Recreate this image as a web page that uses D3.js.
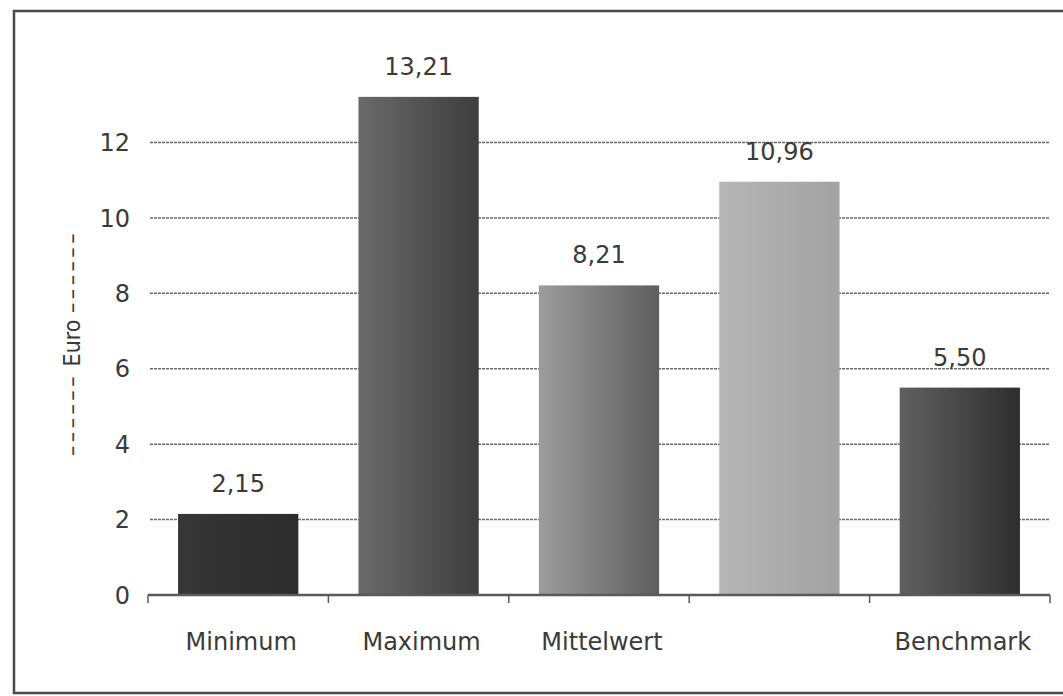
<!DOCTYPE html>
<html><head><meta charset="utf-8">
<script src="https://cdn.jsdelivr.net/npm/d3@7"></script>
<style>
html,body{margin:0;padding:0;background:#fff;}
svg{display:block;}
text{font-family:"DejaVu Sans",Verdana,sans-serif;fill:#3a3a3a;}
</style></head>
<body>
<svg id="chart" width="1063" height="696"></svg>
<script>
const categories = ["Minimum", "Maximum", "Mittelwert", "", "Benchmark"];
const values = [2.15, 13.21, 8.21, 10.96, 5.50];
const yTicks = [0, 2, 4, 6, 8, 10, 12];
const yTitleParts = ["––––––", " Euro ", "––––––"];
const barShades = [
  ["#363636", "#2c2c2c"],
  ["#6a6a6a", "#3e3e3e"],
  ["#9c9c9c", "#5e5e5e"],
  ["#b6b6b6", "#a2a2a2"],
  ["#606060", "#2e2e2e"]
];

const svg = d3.select("#chart");

// frame
svg.append("rect").attr("x", 14).attr("y", 11).attr("width", 1070).attr("height", 682)
  .attr("fill", "none").attr("stroke", "#4a4a4a").attr("stroke-width", 2.5);

const x = d3.scaleBand().domain(categories.map((c, i) => i)).range([148, 1050]).padding(0);
const y = d3.scaleLinear().domain([0, 12]).range([595, 142.5]);

// gradients
const defs = svg.append("defs");
barShades.forEach((s, i) => {
  const g = defs.append("linearGradient").attr("id", "g" + i)
    .attr("x1", "0%").attr("x2", "100%").attr("y1", "0%").attr("y2", "0%");
  g.append("stop").attr("offset", "0%").attr("stop-color", s[0]);
  g.append("stop").attr("offset", "100%").attr("stop-color", s[1]);
});

// gridlines
svg.append("g").selectAll("line").data(yTicks.filter(t => t > 0)).join("line")
  .attr("x1", 150).attr("x2", 1050)
  .attr("y1", d => y(d)).attr("y2", d => y(d))
  .attr("stroke", "#6a6a6a").attr("stroke-width", 1.5).attr("stroke-dasharray", "3,1");

// y tick labels
svg.append("g").selectAll("text").data(yTicks).join("text")
  .attr("x", 130).attr("y", d => y(d)).attr("dy", "0.36em")
  .attr("text-anchor", "end").attr("font-size", 24).text(d => d);

// bars
const bw = x.bandwidth() * 2 / 3;
svg.append("g").selectAll("rect").data(values).join("rect")
  .attr("x", (d, i) => x(i) + (x.bandwidth() - bw) / 2)
  .attr("width", bw)
  .attr("y", d => y(d))
  .attr("height", d => y(0) - y(d))
  .attr("fill", (d, i) => "url(#g" + i + ")");

// value labels
svg.append("g").selectAll("text").data(values).join("text")
  .attr("x", (d, i) => x(i) + x.bandwidth() / 2)
  .attr("y", d => y(d) - 22)
  .attr("text-anchor", "middle").attr("font-size", 24)
  .text(d => d3.format(".2f")(d).replace(".", ","));

// x axis
const xAxis = svg.append("g");
xAxis.append("line").attr("x1", 148).attr("x2", 1050).attr("y1", y(0)).attr("y2", y(0))
  .attr("stroke", "#5a5a5a").attr("stroke-width", 2.5);
const bounds = categories.map((c, i) => x(i)).concat([x(categories.length - 1) + x.bandwidth()]);
xAxis.selectAll("line.tick").data(bounds).join("line").attr("class", "tick")
  .attr("x1", d => d).attr("x2", d => d).attr("y1", y(0)).attr("y2", y(0) + 8)
  .attr("stroke", "#5a5a5a").attr("stroke-width", 1.5);
xAxis.selectAll("text").data(categories).join("text")
  .attr("x", (d, i) => x(i) + x.bandwidth() / 2 + 3)
  .attr("y", 650).attr("text-anchor", "middle").attr("font-size", 24).text(d => d);

// y title
const t = svg.append("text").attr("transform", "translate(80,343) rotate(-90)")
  .attr("text-anchor", "middle").attr("font-size", 23)
  .style("font-family", "'DejaVu Sans Condensed','DejaVu Sans',sans-serif");
t.selectAll("tspan").data(yTitleParts).join("tspan")
  .attr("letter-spacing", (d, i) => i === 1 ? 0 : 3.5)
  .text(d => d);
</script>
</body></html>
